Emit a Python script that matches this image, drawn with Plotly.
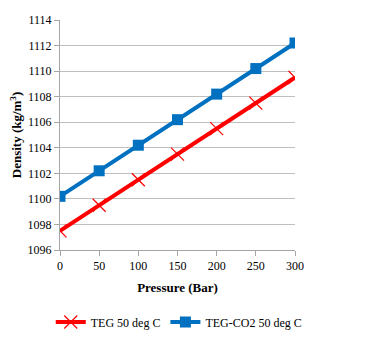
import plotly.graph_objects as go

pressure = [0, 50, 100, 150, 200, 250, 300]
teg = [1097.5, 1099.5, 1101.5, 1103.5, 1105.5, 1107.5, 1109.5]
teg_co2 = [1100.2, 1102.2, 1104.2, 1106.2, 1108.2, 1110.2, 1112.2]

font_family = "Liberation Serif"

fig = go.Figure()
fig.add_trace(go.Scatter(
    x=pressure, y=teg, name="TEG 50 deg C", mode="lines+markers",
    line=dict(color="#FF0000", width=4),
    marker=dict(symbol="x-thin-open", size=13, color="#FF0000", line=dict(width=1.2, color="#FF0000")),
))
fig.add_trace(go.Scatter(
    x=pressure, y=teg_co2, name="TEG-CO2 50 deg C", mode="lines+markers",
    line=dict(color="#0070C0", width=4),
    marker=dict(symbol="square", size=11, color="#0070C0"),
))

fig.update_layout(
    width=357, height=347,
    margin=dict(l=52, r=70, t=12, b=105, autoexpand=False),
    plot_bgcolor="white", paper_bgcolor="white",
    font=dict(family=font_family, size=12, color="black"),
    showlegend=True,
    legend=dict(orientation="h", x=1.05, xanchor="right", y=-0.25, yanchor="top",
                font=dict(family=font_family, size=12), itemwidth=30,
                tracegroupgap=0),
    xaxis=dict(
        range=[0, 300], tickvals=pressure, showgrid=False, zeroline=False,
        showline=True, linecolor="#A6A6A6", linewidth=1,
        ticks="outside", ticklen=5, tickcolor="#A6A6A6",
        title=dict(text="<b>Pressure (Bar)</b>", font=dict(family=font_family, size=13), standoff=10),
        tickfont=dict(family=font_family, size=12),
    ),
    yaxis=dict(
        range=[1096, 1114], dtick=2, showgrid=True, gridcolor="#BFBFBF", gridwidth=1,
        zeroline=False, showline=True, linecolor="#A6A6A6", linewidth=1,
        ticks="outside", ticklen=5, tickcolor="#A6A6A6",
        title=dict(text="<b>Density (kg/m<sup>3</sup>)</b>", font=dict(family=font_family, size=13), standoff=10),
        tickfont=dict(family=font_family, size=12),
    ),
)

fig.write_html("out.html")
